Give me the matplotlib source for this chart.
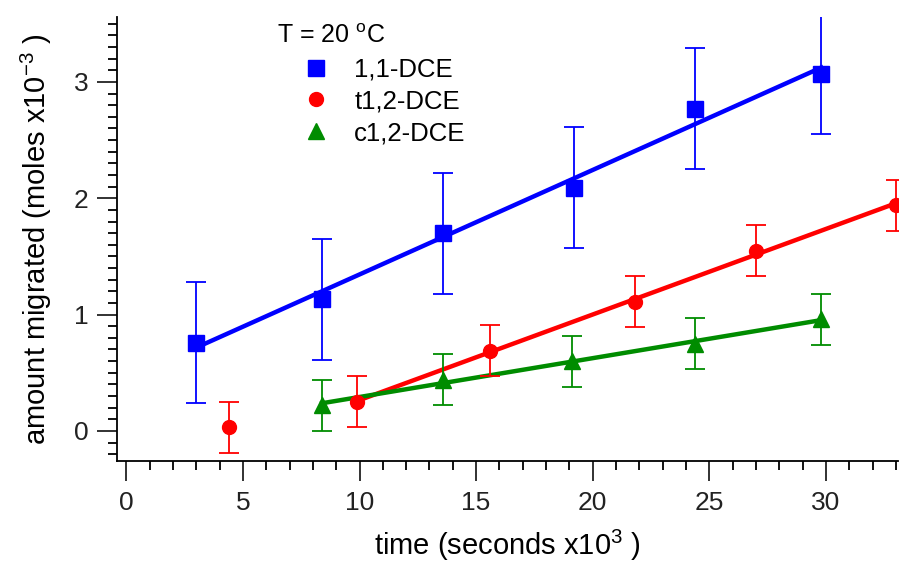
import numpy as np
import matplotlib
matplotlib.use("Agg")
import matplotlib.pyplot as plt
from matplotlib.ticker import MultipleLocator
from matplotlib.lines import Line2D

plt.rcParams['font.family'] = ['Liberation Sans', 'DejaVu Sans']
plt.rcParams['mathtext.default'] = 'regular'

# data (time in 10^3 s, amount in 10^-3 mol)
dce11_t = [3.0, 8.4, 13.6, 19.2, 24.4, 29.8]
dce11_y = [0.76, 1.13, 1.70, 2.09, 2.77, 3.07]
dce11_err = [0.52, 0.52, 0.52, 0.52, 0.52, 0.52]

t12_t = [4.4, 9.9, 15.6, 21.8, 27.0, 33.0]
t12_y = [0.03, 0.25, 0.69, 1.11, 1.55, 1.94]
t12_err = [0.22, 0.22, 0.22, 0.22, 0.22, 0.22]
t12_fit_from = 1  # first point left out of the fit

c12_t = [8.4, 13.6, 19.1, 24.4, 29.8]
c12_y = [0.22, 0.44, 0.60, 0.75, 0.96]
c12_err = [0.22, 0.22, 0.22, 0.22, 0.22]

labels = ['1,1-DCE', 't1,2-DCE', 'c1,2-DCE']

blue = '#0000ff'
red = '#ff0000'
green = '#008c00'

fig = plt.figure(figsize=(9, 5.61), dpi=100)
ax = fig.add_axes([0.13, 0.178, 0.868, 0.792])


def fit_line(t, y, color):
    t = np.asarray(t)
    k, b = np.polyfit(t, y, 1)
    ends = np.array([t.min(), t.max()])
    ax.plot(ends, k * ends + b, color=color, lw=3.2, zorder=2)


fit_line(dce11_t, dce11_y, blue)
fit_line(t12_t[t12_fit_from:], t12_y[t12_fit_from:], red)
fit_line(c12_t, c12_y, green)

eb = dict(elinewidth=1.3, capsize=7, capthick=1.3, zorder=3)
ax.errorbar(dce11_t, dce11_y, yerr=dce11_err, fmt='s', color=blue, ms=12, **eb)
ax.errorbar(t12_t, t12_y, yerr=t12_err, fmt='o', color=red, ms=10, **eb)
ax.errorbar(c12_t, c12_y, yerr=c12_err, fmt='^', color=green, ms=11, **eb)

ax.set_xlim(-0.4, 33.1)
ax.set_ylim(-0.26, 3.56)

for s in ['top', 'right']:
    ax.spines[s].set_visible(False)
for s in ['left', 'bottom']:
    ax.spines[s].set_linewidth(1.3)

ax.xaxis.set_major_locator(MultipleLocator(5))
ax.xaxis.set_minor_locator(MultipleLocator(1))
ax.yaxis.set_major_locator(MultipleLocator(1))
ax.yaxis.set_minor_locator(MultipleLocator(0.1))
ax.tick_params(which='major', length=14.5, width=1.3, labelsize=19,
               colors='#222222')
ax.tick_params(which='minor', length=6.5, width=1.3)
ax.tick_params(axis='x', pad=7)
ax.tick_params(axis='y', pad=6)

ax.set_xlabel('time (seconds x10$^{3}$ )', fontsize=21, labelpad=9)
ax.set_ylabel('amount migrated (moles x10$^{-3}$ )', fontsize=21, labelpad=14)

ax.text(0.205, 0.957, 'T = 20 $^{o}$C', transform=ax.transAxes, fontsize=18,
        ha='left', va='center')

handles = [
    Line2D([], [], ls='none', marker='s', color=blue, ms=12),
    Line2D([], [], ls='none', marker='o', color=red, ms=10),
    Line2D([], [], ls='none', marker='^', color=green, ms=11),
]
ax.legend(handles, labels, loc='upper left', bbox_to_anchor=(0.228, 0.908),
          frameon=False, fontsize=18.5, handlelength=1.6, handletextpad=0.7,
          labelspacing=0.3, borderaxespad=0.0, borderpad=0.0)

fig.savefig('out.png', dpi=100)
